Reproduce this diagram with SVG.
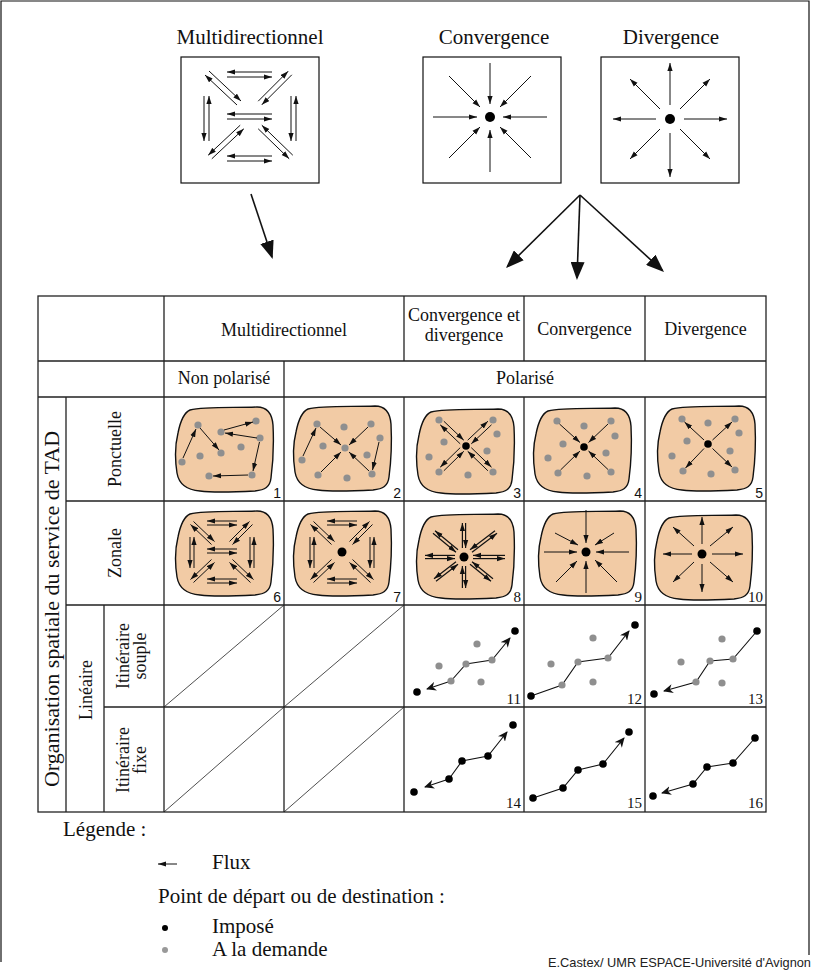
<svg xmlns="http://www.w3.org/2000/svg" xmlns:xlink="http://www.w3.org/1999/xlink" width="821" height="971" viewBox="0 0 821 971">
<style>
text{font-family:"Liberation Serif","Times New Roman",serif;fill:#111}
.t21{font-size:21px}
.t18{font-size:18px}
.num{font-size:15px;text-anchor:end}
.nums{font-family:"Liberation Sans",Arial,sans-serif;font-size:14px;text-anchor:end}
.box{fill:#fff;stroke:#111;stroke-width:1.2}
.tb{stroke:#222;stroke-width:1.3;fill:none}
.dg{stroke:#222;stroke-width:0.8;fill:none}
.f{stroke:#111;stroke-width:1;fill:none;marker-end:url(#a)}
.fb{stroke:#111;stroke-width:1.2;fill:none;marker-end:url(#a)}
.fl{stroke:#111;stroke-width:1.1;fill:none;marker-end:url(#ab)}
.big{stroke:#111;stroke-width:1.6;fill:none;marker-end:url(#big)}
.blob{fill:#F2CBA5;stroke:#111;stroke-width:1.4}
.g{fill:#8f8f8f}
.k{fill:#000}
</style>
<defs>
<marker id="a" markerUnits="userSpaceOnUse" markerWidth="9" markerHeight="6" refX="8" refY="3" orient="auto"><path d="M0,0.4 L8,3 L0,5.6 z" fill="#111"/></marker>
<marker id="ab" markerUnits="userSpaceOnUse" markerWidth="11" markerHeight="9" refX="9" refY="4.5" orient="auto"><path d="M0,0 L10,4.5 L0,9 L3,4.5 z" fill="#111"/></marker>
<marker id="big" markerUnits="userSpaceOnUse" markerWidth="19" markerHeight="14" refX="16" refY="7" orient="auto"><path d="M0,0 L18,7 L0,14 z" fill="#111"/></marker>
<path id="blob" d="M15,5 C30,1 60,3 82,2 C92,2 97,8 98,20 C99,40 98,58 96,73 C95,82 90,85 80,86 C60,87 40,88 25,86 C12,85 4,80 2,68 C0,55 0,40 3,28 C5,18 8,8 15,5 Z"/>
<g id="mdz">
<line class="f" x1="15" y1="-31" x2="-15" y2="-31"/>
<line class="f" x1="-15" y1="-27" x2="15" y2="-27"/>
<line class="f" x1="15" y1="27" x2="-15" y2="27"/>
<line class="f" x1="-15" y1="31" x2="15" y2="31"/>
<line class="f" x1="-32" y1="-15" x2="-32" y2="16"/>
<line class="f" x1="-28" y1="16" x2="-28" y2="-15"/>
<line class="f" x1="28" y1="-15" x2="28" y2="16"/>
<line class="f" x1="32" y1="16" x2="32" y2="-15"/>
<line class="f" x1="-28.5" y1="-30.5" x2="-7.5" y2="-10.5"/>
<line class="f" x1="-10.5" y1="-7.5" x2="-31.5" y2="-27.5"/>
<line class="f" x1="30.5" y1="-27.5" x2="10.5" y2="-7.5"/>
<line class="f" x1="7.5" y1="-10.5" x2="27.5" y2="-30.5"/>
<line class="f" x1="-28.5" y1="30.5" x2="-7.5" y2="10.5"/>
<line class="f" x1="-10.5" y1="7.5" x2="-31.5" y2="27.5"/>
<line class="f" x1="10.5" y1="7.5" x2="31.5" y2="27.5"/>
<line class="f" x1="28.5" y1="30.5" x2="7.5" y2="10.5"/>
</g>
</defs>

<path d="M1,962 V1 H809 V955" fill="none" stroke="#111" stroke-width="1.2"/>

<g id="icon-multi">
<text class="t21" x="250" y="44" text-anchor="middle">Multidirectionnel</text>
<rect class="box" x="181" y="57" width="138" height="126"/>
<line class="f" x1="272" y1="72" x2="227" y2="72"/>
<line class="f" x1="227" y1="77" x2="272" y2="77"/>
<line class="f" x1="272" y1="114" x2="227" y2="114"/>
<line class="f" x1="227" y1="119" x2="272" y2="119"/>
<line class="f" x1="272" y1="156" x2="227" y2="156"/>
<line class="f" x1="227" y1="161" x2="272" y2="161"/>
<line class="f" x1="204" y1="96" x2="204" y2="141"/>
<line class="f" x1="209" y1="141" x2="209" y2="96"/>
<line class="f" x1="291" y1="96" x2="291" y2="141"/>
<line class="f" x1="296" y1="141" x2="296" y2="96"/>
<line class="f" x1="209" y1="71" x2="241" y2="101"/>
<line class="f" x1="237" y1="105" x2="205" y2="75"/>
<line class="f" x1="291.8" y1="74.8" x2="261.8" y2="104.8"/>
<line class="f" x1="258.2" y1="101.2" x2="288.2" y2="71.2"/>
<line class="f" x1="211.8" y1="158.8" x2="243.8" y2="128.8"/>
<line class="f" x1="240.2" y1="125.2" x2="208.2" y2="155.2"/>
<line class="f" x1="258.2" y1="128.8" x2="289.2" y2="158.8"/>
<line class="f" x1="292.8" y1="155.2" x2="261.8" y2="125.2"/>
</g>

<g id="icon-conv">
<text class="t21" x="494" y="44" text-anchor="middle">Convergence</text>
<rect class="box" x="423" y="57" width="138" height="126"/>
<circle class="k" cx="490" cy="117" r="5"/>
<line class="f" x1="433" y1="117" x2="477" y2="117"/>
<line class="f" x1="547" y1="117" x2="503" y2="117"/>
<line class="f" x1="490" y1="63" x2="490" y2="104"/>
<line class="f" x1="490" y1="172" x2="490" y2="130"/>
<line class="f" x1="449" y1="76" x2="480" y2="107"/>
<line class="f" x1="531" y1="76" x2="500" y2="107"/>
<line class="f" x1="449" y1="158" x2="480" y2="127"/>
<line class="f" x1="531" y1="158" x2="500" y2="127"/>
</g>

<g id="icon-div">
<text class="t21" x="671" y="44" text-anchor="middle">Divergence</text>
<rect class="box" x="601" y="57" width="138" height="126"/>
<circle class="k" cx="670" cy="119" r="5"/>
<line class="f" x1="656" y1="119" x2="613" y2="119"/>
<line class="f" x1="684" y1="119" x2="727" y2="119"/>
<line class="f" x1="670" y1="105" x2="670" y2="63"/>
<line class="f" x1="670" y1="133" x2="670" y2="177"/>
<line class="f" x1="660" y1="109" x2="630" y2="79"/>
<line class="f" x1="680" y1="109" x2="710" y2="79"/>
<line class="f" x1="660" y1="129" x2="630" y2="159"/>
<line class="f" x1="680" y1="129" x2="710" y2="159"/>
</g>

<g id="connectors">
<line class="big" x1="251" y1="194" x2="272" y2="257"/>
<line class="big" x1="580" y1="195" x2="507.4" y2="266.6"/>
<line class="big" x1="580" y1="195" x2="577" y2="278"/>
<line class="big" x1="580" y1="195" x2="662.5" y2="270.6"/>
</g>

<g id="table">
<rect class="tb" x="38" y="296" width="728" height="516"/>
<path class="tb" d="M38,361 H766 M38,397 H766 M66,501 H766 M66,605 H766 M104,707 H766 M164,296 V812 M404,296 V361 M404,397 V812 M524,296 V361 M524,397 V812 M645,296 V361 M645,397 V812 M284,361 V812 M66,397 V812 M104,605 V812"/>
<path class="dg" d="M164,707 L284,605 M284,707 L404,605 M164,812 L284,707 M284,812 L404,707"/>
<text class="t18" x="284" y="336" text-anchor="middle">Multidirectionnel</text>
<text class="t18" x="464" y="321" text-anchor="middle">Convergence et</text>
<text class="t18" x="464" y="341" text-anchor="middle">divergence</text>
<text class="t18" x="584.5" y="335" text-anchor="middle">Convergence</text>
<text class="t18" x="705.5" y="335" text-anchor="middle">Divergence</text>
<text class="t18" x="224" y="384" text-anchor="middle">Non polarisé</text>
<text class="t18" x="525" y="384" text-anchor="middle">Polarisé</text>
<text style="font-size:22px" transform="translate(59,609) rotate(-90)" text-anchor="middle">Organisation spatiale du service de TAD</text>
<text class="t18" transform="translate(121,449) rotate(-90)" text-anchor="middle">Ponctuelle</text>
<text class="t18" transform="translate(121,553) rotate(-90)" text-anchor="middle">Zonale</text>
<text class="t18" transform="translate(92,690) rotate(-90)" text-anchor="middle">Linéaire</text>
<text class="t18" transform="translate(129,656) rotate(-90)" text-anchor="middle">Itinéraire</text>
<text class="t18" transform="translate(146,656) rotate(-90)" text-anchor="middle">souple</text>
<text class="t18" transform="translate(129,760) rotate(-90)" text-anchor="middle">Itinéraire</text>
<text class="t18" transform="translate(146,760) rotate(-90)" text-anchor="middle">fixe</text>
</g>

<g id="cell-1">
<use href="#blob" class="blob" transform="translate(175,405)"/>
<circle class="g" cx="198" cy="425" r="3.6"/><circle class="g" cx="256" cy="421" r="3.6"/><circle class="g" cx="221" cy="432" r="3.6"/><circle class="g" cx="260" cy="438" r="3.6"/><circle class="g" cx="241" cy="447" r="3.6"/><circle class="g" cx="221" cy="453" r="3.6"/><circle class="g" cx="200" cy="456" r="3.6"/><circle class="g" cx="182" cy="462" r="3.6"/><circle class="g" cx="209" cy="476" r="3.6"/><circle class="g" cx="252" cy="475" r="3.6"/>
<line class="f" x1="183" y1="458" x2="196" y2="429"/>
<line class="f" x1="200" y1="428" x2="219" y2="450"/>
<line class="f" x1="224" y1="430" x2="253" y2="422"/>
<line class="f" x1="257" y1="438" x2="225" y2="433"/>
<line class="f" x1="259.5" y1="442" x2="253" y2="471"/>
<line class="f" x1="248" y1="475" x2="213" y2="476"/>
<text class="nums" x="281" y="498">1</text>
</g>

<g id="cell-2">
<use href="#blob" class="blob" transform="translate(293,404)"/>
<circle class="g" cx="317" cy="424" r="3.6"/><circle class="g" cx="344" cy="427" r="3.6"/><circle class="g" cx="371" cy="424" r="3.6"/><circle class="g" cx="380" cy="438" r="3.6"/><circle class="g" cx="323" cy="446" r="3.6"/><circle class="g" cx="345" cy="448" r="3.6"/><circle class="g" cx="367" cy="455" r="3.6"/><circle class="g" cx="302" cy="460" r="3.6"/><circle class="g" cx="318" cy="475" r="3.6"/><circle class="g" cx="347" cy="478" r="3.6"/><circle class="g" cx="372" cy="474" r="3.6"/>
<line class="f" x1="320" y1="427" x2="341" y2="445"/>
<line class="f" x1="368" y1="427" x2="349" y2="445"/>
<line class="f" x1="321" y1="472" x2="341" y2="452"/>
<line class="f" x1="369" y1="471" x2="349" y2="452"/>
<line class="f" x1="303" y1="456" x2="316" y2="428"/>
<line class="f" x1="379" y1="442" x2="372.5" y2="470"/>
<text class="nums" x="401" y="498">2</text>
</g>

<g id="cell-3">
<use href="#blob" class="blob" transform="translate(416,407)"/>
<circle class="g" cx="439" cy="420" r="3.6"/><circle class="g" cx="493" cy="420" r="3.6"/><circle class="g" cx="444" cy="442" r="3.6"/><circle class="g" cx="497" cy="434" r="3.6"/><circle class="g" cx="487" cy="451" r="3.6"/><circle class="g" cx="429" cy="457" r="3.6"/><circle class="g" cx="439" cy="472" r="3.6"/><circle class="g" cx="468" cy="475" r="3.6"/><circle class="g" cx="493" cy="472" r="3.6"/>
<circle class="k" cx="466" cy="446" r="3.8"/>
<line class="f" x1="443.8" y1="421.2" x2="463.8" y2="440.2"/>
<line class="f" x1="460.2" y1="443.8" x2="440.2" y2="424.8"/>
<line class="f" x1="491.5" y1="424.8" x2="471.3" y2="443.8"/>
<line class="f" x1="467.7" y1="440.2" x2="487.9" y2="421.2"/>
<line class="f" x1="443.8" y1="470.8" x2="463.8" y2="451.3"/>
<line class="f" x1="460.2" y1="447.7" x2="440.2" y2="467.2"/>
<line class="f" x1="487.9" y1="470.8" x2="467.7" y2="451.3"/>
<line class="f" x1="471.3" y1="447.7" x2="491.5" y2="467.2"/>
<text class="nums" x="521" y="498">3</text>
</g>

<g id="cell-4">
<use href="#blob" class="blob" transform="translate(533,406)"/>
<circle class="g" cx="557" cy="421" r="3.6"/><circle class="g" cx="584" cy="426" r="3.6"/><circle class="g" cx="611" cy="421" r="3.6"/><circle class="g" cx="563" cy="444" r="3.6"/><circle class="g" cx="615" cy="436" r="3.6"/><circle class="g" cx="606" cy="453" r="3.6"/><circle class="g" cx="548" cy="458" r="3.6"/><circle class="g" cx="558" cy="473" r="3.6"/><circle class="g" cx="587" cy="476" r="3.6"/><circle class="g" cx="611" cy="472" r="3.6"/>
<circle class="k" cx="584" cy="447" r="3.8"/>
<line class="f" x1="559.5" y1="424" x2="580" y2="442.5"/>
<line class="f" x1="608" y1="424" x2="588.5" y2="442.5"/>
<line class="f" x1="560.5" y1="470" x2="580" y2="451"/>
<line class="f" x1="608" y1="469.5" x2="588.5" y2="451"/>
<text class="nums" x="642" y="498">4</text>
</g>

<g id="cell-5">
<use href="#blob" class="blob" transform="translate(657,404)"/>
<circle class="g" cx="682" cy="419" r="3.6"/><circle class="g" cx="708" cy="423" r="3.6"/><circle class="g" cx="735" cy="419" r="3.6"/><circle class="g" cx="687" cy="441" r="3.6"/><circle class="g" cx="739" cy="433" r="3.6"/><circle class="g" cx="730" cy="451" r="3.6"/><circle class="g" cx="672" cy="456" r="3.6"/><circle class="g" cx="683" cy="471" r="3.6"/><circle class="g" cx="711" cy="474" r="3.6"/><circle class="g" cx="735" cy="470" r="3.6"/>
<circle class="k" cx="708" cy="444" r="3.8"/>
<line class="f" x1="704" y1="440" x2="684.5" y2="422"/>
<line class="f" x1="712.5" y1="440" x2="732" y2="422"/>
<line class="f" x1="704" y1="448.5" x2="685.5" y2="468"/>
<line class="f" x1="712.5" y1="448.5" x2="732" y2="467"/>
<text class="nums" x="763" y="498">5</text>
</g>

<g id="cell-6">
<use href="#blob" class="blob" transform="translate(175,509)"/>
<use href="#mdz" transform="translate(222,552)"/>
<line class="f" x1="237" y1="549" x2="207" y2="549"/>
<line class="f" x1="207" y1="553" x2="237" y2="553"/>
<text class="nums" x="281" y="602">6</text>
</g>

<g id="cell-7">
<use href="#blob" class="blob" transform="translate(293,509)"/>
<use href="#mdz" transform="translate(342,552)"/>
<circle class="k" cx="342" cy="552" r="4.5"/>
<text class="nums" x="401" y="602">7</text>
</g>

<g id="cell-8">
<use href="#blob" class="blob" transform="translate(416,512)"/>
<circle class="k" cx="464" cy="557" r="4.5"/>
<g transform="translate(464,557)">
<line class="fb" x1="-1.6" y1="-9" x2="-1.6" y2="-34"/><line class="fb" x1="1.6" y1="-34" x2="1.6" y2="-9"/>
<line class="fb" x1="1.6" y1="9" x2="1.6" y2="31"/><line class="fb" x1="-1.6" y1="31" x2="-1.6" y2="9"/>
<line class="fb" x1="-9" y1="-1.6" x2="-39" y2="-1.6"/><line class="fb" x1="-39" y1="1.6" x2="-9" y2="1.6"/>
<line class="fb" x1="9" y1="1.6" x2="41" y2="1.6"/><line class="fb" x1="41" y1="-1.6" x2="9" y2="-1.6"/>
<line class="fb" x1="-6" y1="-7.2" x2="-29" y2="-26.2"/><line class="fb" x1="-31" y1="-23.8" x2="-8" y2="-4.8"/>
<line class="fb" x1="8" y1="-4.8" x2="33" y2="-23.8"/><line class="fb" x1="31" y1="-26.2" x2="6" y2="-7.2"/>
<line class="fb" x1="-8" y1="4.8" x2="-30" y2="21.8"/><line class="fb" x1="-28" y1="24.2" x2="-6" y2="7.2"/>
<line class="fb" x1="6" y1="7.2" x2="27" y2="24.2"/><line class="fb" x1="29" y1="21.8" x2="8" y2="4.8"/>
</g>
<text class="num" x="521" y="602">8</text>
</g>

<g id="cell-9">
<use href="#blob" class="blob" transform="translate(538,509)"/>
<circle class="k" cx="586" cy="552" r="4.5"/>
<line class="f" x1="544" y1="552" x2="577" y2="552"/>
<line class="f" x1="629" y1="552" x2="596" y2="552"/>
<line class="f" x1="586" y1="510" x2="586" y2="543"/>
<line class="f" x1="586" y1="593" x2="586" y2="561"/>
<line class="f" x1="555" y1="533" x2="578" y2="545"/>
<line class="f" x1="614" y1="533" x2="595" y2="545"/>
<line class="f" x1="556" y1="582" x2="577" y2="561"/>
<line class="f" x1="617" y1="582" x2="595" y2="560"/>
<text class="num" x="642" y="602">9</text>
</g>

<g id="cell-10">
<use href="#blob" class="blob" transform="translate(654,513)"/>
<circle class="k" cx="702" cy="554" r="4.5"/>
<line class="f" x1="692" y1="554" x2="663" y2="554"/>
<line class="f" x1="712" y1="554" x2="743" y2="554"/>
<line class="f" x1="702" y1="544" x2="702" y2="517"/>
<line class="f" x1="702" y1="564" x2="702" y2="592"/>
<line class="f" x1="694" y1="546" x2="673" y2="527"/>
<line class="f" x1="710" y1="546" x2="733" y2="527"/>
<line class="f" x1="694" y1="562" x2="673" y2="582"/>
<line class="f" x1="710" y1="562" x2="733" y2="582"/>
<text class="num" x="763" y="602">10</text>
</g>

<g id="cell-11">
<polyline class="fl" points="451,681 466,664 492,660 510,638"/>
<line class="fl" x1="451" y1="681" x2="427" y2="689"/>
<circle class="g" cx="439" cy="666" r="3.6"/><circle class="g" cx="477" cy="644" r="3.6"/><circle class="g" cx="451" cy="681" r="3.6"/><circle class="g" cx="466" cy="664" r="3.6"/><circle class="g" cx="492" cy="660" r="3.6"/><circle class="g" cx="481" cy="682" r="3.6"/>
<circle class="k" cx="417" cy="692" r="3.8"/><circle class="k" cx="515" cy="631" r="3.8"/>
<text class="num" x="521" y="704">11</text>
</g>

<g id="cell-12">
<polyline class="fl" points="531,696 562,685 578,662 608,658 629,631"/>
<circle class="g" cx="551" cy="664" r="3.6"/><circle class="g" cx="593" cy="638" r="3.6"/><circle class="g" cx="562" cy="685" r="3.6"/><circle class="g" cx="578" cy="662" r="3.6"/><circle class="g" cx="608" cy="658" r="3.6"/><circle class="g" cx="593" cy="682" r="3.6"/>
<circle class="k" cx="531" cy="696" r="3.8"/><circle class="k" cx="635" cy="625" r="3.8"/>
<text class="num" x="642" y="704">12</text>
</g>

<g id="cell-13">
<polyline class="fl" points="757,631 733,659 710,661 696,682 664,691"/>
<circle class="g" cx="681" cy="662" r="3.6"/><circle class="g" cx="722" cy="639" r="3.6"/><circle class="g" cx="696" cy="682" r="3.6"/><circle class="g" cx="710" cy="661" r="3.6"/><circle class="g" cx="733" cy="659" r="3.6"/><circle class="g" cx="722" cy="683" r="3.6"/>
<circle class="k" cx="654" cy="694" r="3.8"/><circle class="k" cx="757" cy="631" r="3.8"/>
<text class="num" x="763" y="704">13</text>
</g>

<g id="cell-14">
<polyline class="fl" points="449,779 462,761 488,756 507,732"/>
<line class="fl" x1="449" y1="779" x2="425" y2="787"/>
<circle class="k" cx="414" cy="792" r="3.8"/><circle class="k" cx="449" cy="779" r="3.8"/><circle class="k" cx="462" cy="761" r="3.8"/><circle class="k" cx="488" cy="756" r="3.8"/><circle class="k" cx="513" cy="725" r="3.8"/>
<text class="num" x="521" y="808">14</text>
</g>

<g id="cell-15">
<polyline class="fl" points="533,798 563,788 578,770 603,764 624,738"/>
<circle class="k" cx="533" cy="798" r="3.8"/><circle class="k" cx="563" cy="788" r="3.8"/><circle class="k" cx="578" cy="770" r="3.8"/><circle class="k" cx="603" cy="764" r="3.8"/><circle class="k" cx="629" cy="732" r="3.8"/>
<text class="num" x="642" y="808">15</text>
</g>

<g id="cell-16">
<polyline class="fl" points="755,738 733,763 707,767 693,784 662,793"/>
<circle class="k" cx="653" cy="796" r="3.8"/><circle class="k" cx="693" cy="784" r="3.8"/><circle class="k" cx="707" cy="767" r="3.8"/><circle class="k" cx="733" cy="763" r="3.8"/><circle class="k" cx="755" cy="738" r="3.8"/>
<text class="num" x="763" y="808">16</text>
</g>

<g id="legend">
<text class="t21" x="63" y="836">Légende :</text>
<line class="f" x1="177" y1="864" x2="158" y2="864"/>
<text class="t21" x="212" y="869">Flux</text>
<text class="t21" x="158" y="903">Point de départ ou de destination :</text>
<circle class="k" cx="165" cy="928" r="3"/>
<text class="t21" x="212" y="933">Imposé</text>
<circle cx="165" cy="950" r="3" fill="#999"/>
<text class="t21" x="212" y="956">A la demande</text>
</g>

<text x="548" y="967" style="font-family:'Liberation Sans',Arial,sans-serif;font-size:12.8px;fill:#222">E.Castex/ UMR ESPACE-Université d'Avignon</text>
</svg>
